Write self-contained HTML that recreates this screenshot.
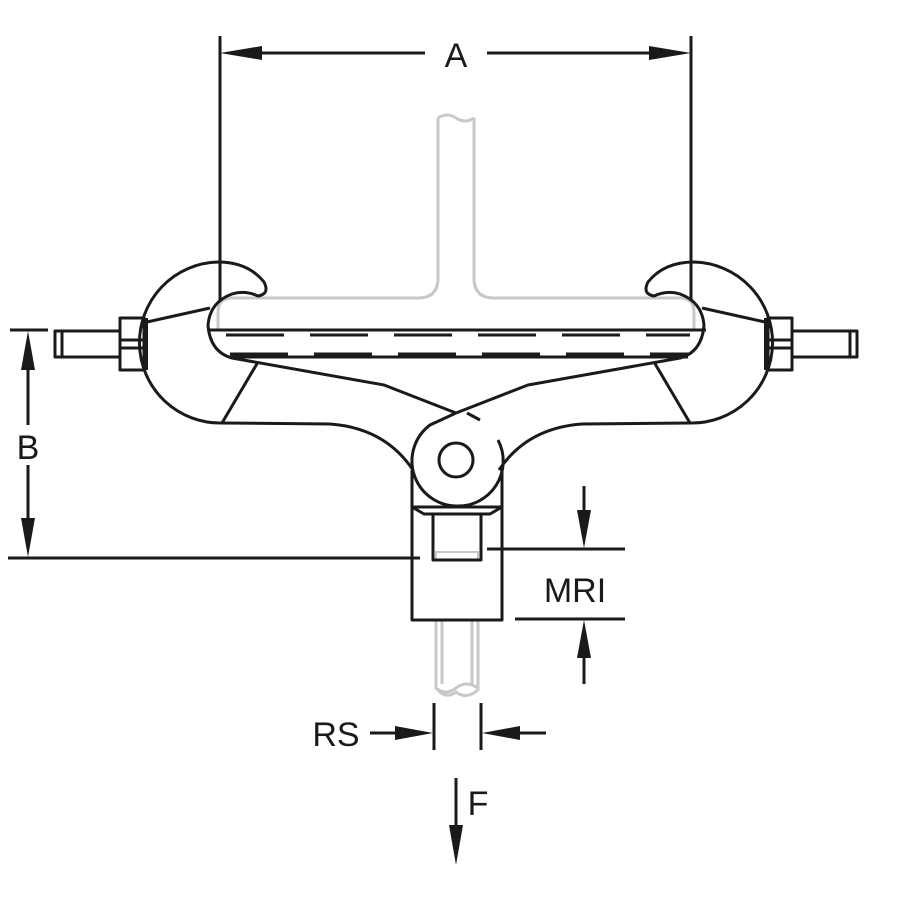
<!DOCTYPE html>
<html><head><style>html,body{margin:0;padding:0;background:#fff}svg{display:block}</style></head>
<body>
<svg width="900" height="900" viewBox="0 0 900 900" xmlns="http://www.w3.org/2000/svg">
<defs>
<marker id="ar" markerWidth="10" markerHeight="10" refX="10" refY="5" orient="auto" markerUnits="userSpaceOnUse" viewBox="0 0 10 10">
</marker>
</defs>
<g fill="none" stroke="#c8c8c8" stroke-width="3">
<!-- gray beam -->
<path d="M438,118 L438,278 Q438,298 418,298 L232,298 Q218,298 218,312 L218,330"/>
<path d="M474,118 L474,278 Q474,298 494,298 L680,298 Q694,298 694,312 L694,330"/>
<path d="M438,118 Q447,112 456,118 Q465,124 474,118"/>
<!-- rod below -->
<path d="M436,620 L436,688 Q446,696 456,688 Q466,680 478,688 L478,620"/>
<path d="M442,620 L442,684 M472,620 L472,684"/>
<path d="M436,688 Q446,700 456,692 Q466,700 478,690"/>
<path d="M436,560 L436,552 L478,552 L478,560" stroke-width="2"/>
</g>
<g fill="none" stroke="#1a1a1a" stroke-width="3" stroke-linejoin="round">
<!-- dim A -->
<line x1="220" y1="36" x2="220" y2="300"/>
<line x1="691" y1="36" x2="691" y2="300"/>
<line x1="230" y1="53" x2="425" y2="53"/>
<line x1="487" y1="53" x2="681" y2="53"/>
<!-- beam lines -->
<line x1="208" y1="330" x2="706" y2="330"/>
<line x1="228" y1="357" x2="688" y2="357"/>
<line x1="226" y1="335" x2="690" y2="335" stroke-dasharray="58,26"/>
<line x1="230" y1="354" x2="690" y2="354" stroke-dasharray="58,26"/>
<!-- left hook -->
<path d="M222,423 A65,65 0 1 1 218,262 Q248,262 264,282 Q270,294 258,296 Q245,290 232,294 Q210,302 208,325 Q210,352 232,358 L384,385 L456,413"/>
<line x1="147" y1="322" x2="210" y2="308"/>
<line x1="258" y1="362" x2="222" y2="423"/>
<path d="M222,423 L330,424 Q385,428 413,470"/>
<!-- right hook -->
<path d="M690,423 A65,65 0 1 0 694,262 Q664,262 648,282 Q642,294 654,296 Q667,290 680,294 Q702,302 704,325 Q702,352 680,358 L528,385 L456,413"/>
<line x1="765" y1="322" x2="702" y2="308"/>
<line x1="654" y1="362" x2="690" y2="423"/>
<path d="M690,423 L582,424 Q527,428 499,470"/>
<!-- pivot -->
<path d="M456,413 L430,425 A45,45 0 0 0 456,506 A45,45 0 0 0 498,440"/>
<line x1="467" y1="413" x2="480" y2="420"/>
<circle cx="456" cy="460" r="17"/>
<!-- clevis -->
<path d="M412,470 L412,620 L502,620 L502,470"/>
<path d="M412,507 L502,507 L490,514 L424,514 Z"/>
<rect x="433" y="514" width="48" height="46"/>
<!-- bolts -->
<rect x="55" y="331" width="65" height="26"/>
<rect x="120" y="318" width="24" height="52"/>
<line x1="120" y1="340" x2="144" y2="340"/><line x1="120" y1="348" x2="144" y2="348"/>
<line x1="62" y1="331" x2="62" y2="357"/>
<rect x="768" y="318" width="24" height="52"/>
<rect x="792" y="331" width="65" height="26"/>
<line x1="768" y1="340" x2="792" y2="340"/><line x1="768" y1="348" x2="792" y2="348"/>
<line x1="850" y1="331" x2="850" y2="357"/>
<line x1="146" y1="318" x2="146" y2="370" stroke-width="4"/>
<line x1="766" y1="318" x2="766" y2="370" stroke-width="4"/>
<!-- dim B -->
<line x1="10" y1="330" x2="48" y2="330"/>
<line x1="8" y1="558" x2="420" y2="558"/>
<line x1="28" y1="345" x2="28" y2="425"/>
<line x1="28" y1="465" x2="28" y2="545"/>
<!-- MRI -->
<line x1="487" y1="549" x2="625" y2="549"/>
<line x1="515" y1="619" x2="625" y2="619"/>
<line x1="584" y1="486" x2="584" y2="530"/>
<line x1="584" y1="640" x2="584" y2="684"/>
<!-- RS -->
<line x1="434" y1="703" x2="434" y2="750"/>
<line x1="481" y1="703" x2="481" y2="750"/>
<line x1="370" y1="733" x2="415" y2="733"/>
<line x1="500" y1="733" x2="546" y2="733"/>
<!-- F -->
<line x1="456" y1="778" x2="456" y2="840"/>
</g>
<g fill="#1a1a1a">
<polygon points="220,53 262,46 262,60"/>
<polygon points="691,53 649,46 649,60"/>
<polygon points="28,331 21,370 35,370"/>
<polygon points="28,557 21,518 35,518"/>
<polygon points="584,548 577,510 591,510"/>
<polygon points="584,620 577,658 591,658"/>
<polygon points="433,733 395,726 395,740"/>
<polygon points="482,733 520,726 520,740"/>
<polygon points="456,865 449,825 463,825"/>
</g>
<g font-family="Liberation Sans, sans-serif" fill="#1a1a1a" font-size="34">
<text x="456" y="67" text-anchor="middle">A</text>
<text x="28" y="459" text-anchor="middle">B</text>
<text x="575" y="602" text-anchor="middle">MRI</text>
<text x="336" y="746" text-anchor="middle">RS</text>
<text x="478" y="815" text-anchor="middle">F</text>
</g>
</svg>
</body></html>
